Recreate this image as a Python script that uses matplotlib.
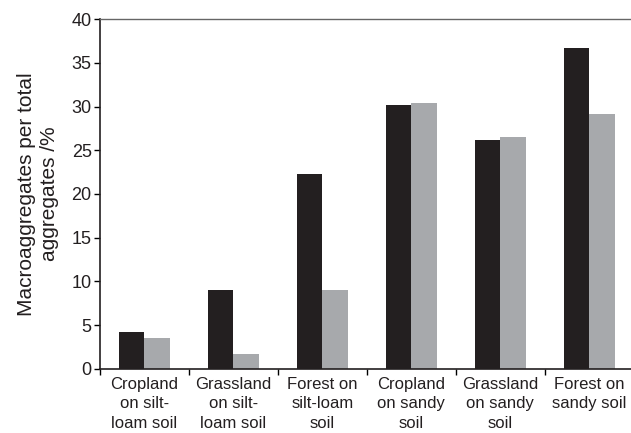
import numpy as np
import matplotlib.pyplot as plt

plt.rcParams['font.family'] = ['Liberation Sans', 'DejaVu Sans']

# land use / soil categories
categories = ['Cropland\non silt-\nloam soil', 'Grassland\non silt-\nloam soil',
              'Forest on\nsilt-loam\nsoil', 'Cropland\non sandy\nsoil',
              'Grassland\non sandy\nsoil', 'Forest on\nsandy soil']
# macroaggregate share, two series (dark / light)
series_dark = [4.2, 9.0, 22.3, 30.2, 26.2, 36.7]
series_light = [3.5, 1.7, 9.0, 30.4, 26.5, 29.1]

fig = plt.figure(figsize=(6.31, 4.33), dpi=100)
ax = fig.add_axes([0.1585, 0.148, 0.846, 0.808])

x = np.arange(len(categories))
w = 0.29
ax.bar(x - w / 2, series_dark, width=w, color='#231f20')
ax.bar(x + w / 2, series_light, width=w, color='#a7a9ac')

ax.set_xlim(-0.5, 5.5)
ax.set_ylim(0, 40)
ax.set_yticks(range(0, 41, 5))

# boundary ticks between groups, labels centered under each group
ax.set_xticks(np.arange(-0.5, 6, 1))
ax.set_xticklabels([])
ax.set_xticks(x, minor=True)
ax.set_xticklabels(categories, minor=True, fontsize=12, linespacing=1.35,
                   color='#231f20')
ax.tick_params(axis='x', which='minor', length=0, pad=6)
ax.tick_params(axis='x', which='major', direction='out', length=4, width=1)
ax.tick_params(axis='y', direction='out', length=4, width=1, labelsize=13,
               pad=2, labelcolor='#231f20')

ax.spines['right'].set_visible(False)
ax.spines['top'].set_color('#666666')
ax.spines['top'].set_linewidth(1)
for s in ('left', 'bottom'):
    ax.spines[s].set_color('#231f20')
    ax.spines[s].set_linewidth(1.2)

ax.set_ylabel('Macroaggregates per total\naggregates /%', fontsize=15,
              linespacing=1.3, labelpad=9, color='#231f20')

fig.savefig('out.png', dpi=100)
